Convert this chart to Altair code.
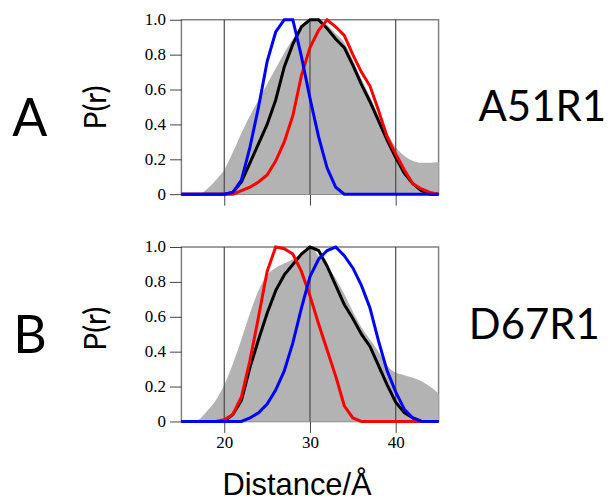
import altair as alt
import pandas as pd

# distance axis (Å)
x_vals = list(range(15, 46))

# Panel A (A51R1)
a_gray = [0, 0, 0, 0.03, 0.08, 0.14, 0.24, 0.35, 0.45, 0.54, 0.63, 0.72, 0.81, 0.89, 0.95, 0.99,
          1.0, 0.97, 0.92, 0.87, 0.77, 0.66, 0.56, 0.45, 0.35, 0.27, 0.22, 0.19, 0.18, 0.18, 0.185]
a_black = [0, 0, 0, 0, 0, 0, 0.01, 0.07, 0.18, 0.29, 0.40, 0.54, 0.73, 0.86, 0.96, 1.0,
           1.0, 0.95, 0.89, 0.84, 0.74, 0.63, 0.53, 0.42, 0.31, 0.21, 0.12, 0.06, 0.02, 0, 0]
a_red = [0, 0, 0, 0, 0, 0, 0, 0.02, 0.04, 0.07, 0.11, 0.19, 0.30, 0.45, 0.68, 0.84,
         0.94, 1.0, 0.96, 0.91, 0.80, 0.70, 0.62, 0.48, 0.33, 0.23, 0.14, 0.06, 0.03, 0.01, 0]
a_blue = [0, 0, 0, 0, 0, 0, 0.01, 0.08, 0.27, 0.50, 0.76, 0.93, 1.0, 1.0, 0.79, 0.55,
          0.33, 0.15, 0.04, 0, 0, 0, 0, 0, 0, 0, 0, 0, 0, 0, 0]

# Panel B (D67R1)
b_gray = [0, 0, 0.01, 0.06, 0.12, 0.21, 0.33, 0.47, 0.62, 0.75, 0.84, 0.88, 0.905, 0.93, 0.96, 1.0,
          0.95, 0.89, 0.82, 0.73, 0.63, 0.54, 0.47, 0.40, 0.32, 0.28, 0.265, 0.25, 0.23, 0.2, 0.16]
b_black = [0, 0, 0, 0, 0, 0, 0.04, 0.12, 0.31, 0.47, 0.62, 0.75, 0.84, 0.90, 0.96, 1.0,
           0.98, 0.89, 0.78, 0.67, 0.59, 0.50, 0.43, 0.32, 0.21, 0.11, 0.05, 0.02, 0, 0, 0]
b_red = [0, 0, 0, 0, 0, 0.01, 0.04, 0.14, 0.35, 0.60, 0.86, 1.0, 0.99, 0.96, 0.86, 0.72,
         0.56, 0.41, 0.26, 0.09, 0.02, 0, 0, 0, 0, 0, 0, 0, 0, 0, 0]
b_blue = [0, 0, 0, 0, 0, 0, 0, 0, 0.02, 0.05, 0.10, 0.18, 0.29, 0.45, 0.65, 0.83,
          0.93, 0.98, 1.0, 0.95, 0.88, 0.78, 0.65, 0.46, 0.29, 0.17, 0.07, 0.02, 0, 0, 0]

grid_x = [20, 30, 40]
y_ticks = [0, 0.2, 0.4, 0.6, 0.8, 1.0]
panel_letters = ["A", "B"]
panel_names = ["A51R1", "D67R1"]
y_title = "P(r)"
x_title = "Distance/Å"

W, H = 258, 175
xs = alt.Scale(domain=[15, 45], nice=False, zero=False)
ys = alt.Scale(domain=[0, 1], nice=False)


def txt(s, x, y, size, font="Lato", angle=0, baseline="middle"):
    kw = dict(font=font, fontSize=size, align="center", baseline=baseline, color="black")
    if angle:
        kw["angle"] = angle
    return alt.Chart(pd.DataFrame({"t": [s]})).mark_text(**kw).encode(
        text="t:N", x=alt.value(x), y=alt.value(y))


def bound(y):
    return alt.Chart(pd.DataFrame({"d": [0]})).mark_rule(opacity=0, strokeWidth=0.01).encode(
        x=alt.value(-181), x2=alt.value(430), y=alt.value(y))


def panel(gray, black, red, blue, letter, name, bottom, name_x, name_y, letter_y, pr_y, b_top, b_bot):
    df = pd.DataFrame({"x": x_vals, "gray": gray, "black": black, "red": red, "blue": blue})
    base = alt.Chart(df)
    xaxis = alt.Axis(values=grid_x, grid=False, domain=False, labels=bottom, title=None,
                     tickSize=11, tickColor="#444", tickWidth=1,
                     labelFont="Liberation Serif", labelFontSize=17, labelColor="black",
                     labelPadding=2)
    yaxis = alt.Axis(values=y_ticks, grid=False, domain=False, title=None,
                     labelExpr="datum.value == 0 ? '0' : format(datum.value, '.1f')",
                     tickSize=12, tickColor="#444", tickWidth=1,
                     labelFont="Liberation Serif", labelFontSize=17, labelColor="black",
                     labelPadding=4)
    area = base.mark_area(color="#b3b3b3", interpolate="monotone").encode(
        x=alt.X("x:Q", scale=xs, axis=xaxis),
        y=alt.Y("gray:Q", scale=ys, axis=yaxis))
    grid = alt.Chart(pd.DataFrame({"g": grid_x})).mark_rule(color="#4a4a4a", strokeWidth=1.2).encode(
        x=alt.X("g:Q", scale=xs, axis=xaxis))
    layers = [area, grid]
    for col, c in [("black", "#000000"), ("red", "#ff0000"), ("blue", "#0000ff")]:
        layers.append(base.mark_line(color=c, strokeWidth=3).encode(
            x=alt.X("x:Q", scale=xs, axis=xaxis),
            y=alt.Y(f"{col}:Q", scale=ys, axis=yaxis)))
    layers.append(txt(letter, 29 - 181, letter_y, 52))
    layers.append(txt(y_title, 96 - 181, pr_y, 30, angle=270))
    layers.append(txt(name, name_x - 181, name_y, 42))
    if bottom:
        layers.append(txt(x_title, 297 - 181, 249, 31, font="Liberation Sans", baseline="alphabetic"))
    layers.append(bound(b_top))
    layers.append(bound(b_bot))
    return alt.layer(*layers).properties(width=W, height=H)


top = panel(a_gray, a_black, a_red, a_blue, panel_letters[0], panel_names[0], False,
            543, 107 - 18, 119 - 18, 106 - 18, -18, 201.5)
bot = panel(b_gray, b_black, b_red, b_blue, panel_letters[1], panel_names[1], True,
            535, 325 - 246, 336 - 246, 328 - 246, -23.5, 250)

chart = alt.vconcat(top, bot, spacing=0, padding=0).configure_view(
    stroke="#808080", strokeWidth=1.5)

chart.save("out.html", embed_options={"renderer": "svg", "actions": False})
